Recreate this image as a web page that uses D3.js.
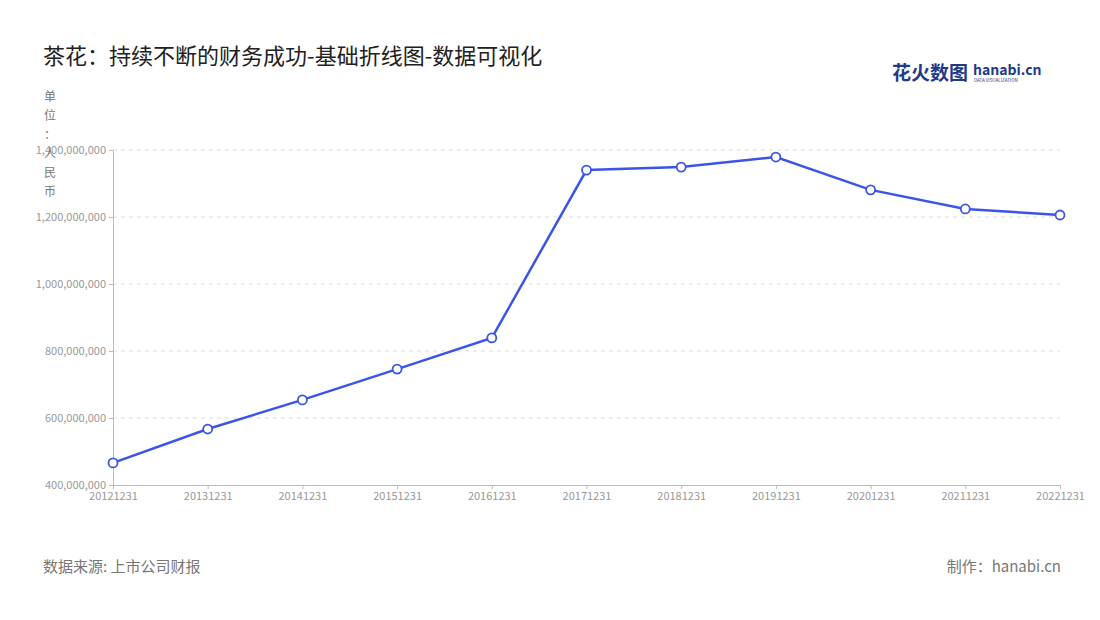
<!DOCTYPE html><html><head><meta charset="utf-8">
<script src="https://cdn.jsdelivr.net/npm/d3@7"></script>
<style>body{margin:0;background:#fff;font-family:"Noto Sans CJK SC","Noto Sans",sans-serif}</style></head><body>
<svg id="c" width="1100" height="620"></svg>
<script>
const years=["20121231","20131231","20141231","20151231","20161231","20171231","20181231","20191231","20201231","20211231","20221231"];
const values=[466e6,567e6,654e6,746e6,839e6,1340e6,1349e6,1379e6,1281e6,1224e6,1206e6];
const yTicks=[400e6,600e6,800e6,1000e6,1200e6,1400e6];
const svg=d3.select("#c");
const F='"Noto Sans CJK SC","Noto Sans",sans-serif';
const x=d3.scalePoint().domain(years).range([113,1060]);
const y=d3.scaleLinear().domain([400e6,1400e6]).range([485,150]);
svg.append("text").attr("x",43).attr("y",64).attr("font-size",22).attr("font-weight",400).attr("fill","#222").attr("font-family",F).text("茶花：持续不断的财务成功-基础折线图-数据可视化");
// logo
svg.append("text").attr("x",892).attr("y",80).attr("font-size",19).attr("font-weight",700).attr("fill","#1f3a8a").attr("font-family",F).text("花火数图");
svg.append("text").attr("x",973).attr("y",75).attr("font-size",14).attr("font-weight",700).attr("fill","#1f3a8a").attr("font-family",F).text("hanabi.cn");
svg.append("text").attr("x",974).attr("y",82).attr("font-size",4.5).attr("fill","#1f3a8a").attr("font-family",F).text("DATA VISUALIZATION");
// grid
svg.selectAll(".g").data(yTicks.filter(d=>d!==400e6)).join("line").attr("x1",113).attr("x2",1060).attr("y1",d=>y(d)).attr("y2",d=>y(d)).attr("stroke","#ddd").attr("stroke-dasharray","4,4");
const ya=svg.append("g").attr("transform","translate(113,0)").call(d3.axisLeft(y).tickValues(yTicks).tickFormat(d3.format(",")).tickSize(4));
ya.select(".domain").attr("stroke","#bbb");ya.selectAll("line").attr("stroke","#bbb");
ya.selectAll("text").attr("fill","#999").attr("font-size",11).attr("font-family",F);
const xa=svg.append("g").attr("transform","translate(0,485)").call(d3.axisBottom(x).tickSize(4));
xa.select(".domain").attr("stroke","#bbb");xa.selectAll("line").attr("stroke","#bbb");
xa.selectAll("text").attr("fill","#999").attr("font-size",11).attr("font-family",F);
// unit label
"单位：人民币".split("").forEach((ch,i)=>svg.append("text").attr("x",50).attr("y",101+i*19).attr("text-anchor","middle").attr("font-size",12).attr("fill","#777").attr("font-family",F).text(ch));
svg.append("path").datum(values).attr("fill","none").attr("stroke","#3a55e8").attr("stroke-width",2.5)
 .attr("d",d3.line().x((d,i)=>x(years[i])).y(d=>y(d)));
svg.selectAll(".p").data(values).join("circle").attr("cx",(d,i)=>x(years[i])).attr("cy",d=>y(d)).attr("r",4.5).attr("fill","#fff").attr("stroke","#3a55e8").attr("stroke-width",1.8);
svg.append("text").attr("x",43).attr("y",572).attr("font-size",15).attr("fill","#777").attr("font-family",F).text("数据来源: 上市公司财报");
svg.append("text").attr("x",1061).attr("y",572).attr("text-anchor","end").attr("font-size",15).attr("fill","#777").attr("font-family",F).text("制作：hanabi.cn");
</script></body></html>
